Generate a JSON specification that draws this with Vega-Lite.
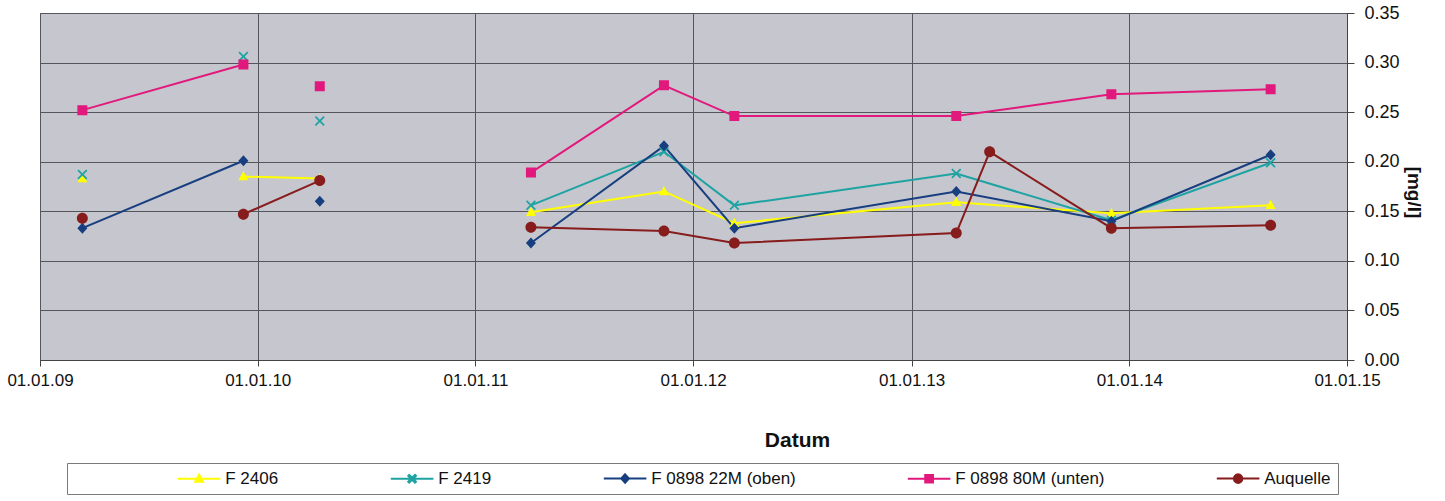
{
  "$schema": "https://vega.github.io/schema/vega-lite/v6.json",
  "width": 1307,
  "height": 347,
  "autosize": {"type": "none"},
  "padding": {"left": 40, "top": 13, "right": 98, "bottom": 141},
  "background": "#ffffff",
  "data": {
    "values": [
      {"Datum": "2009-03-13", "Messstelle": "F 2406", "Wert": 0.183},
      {"Datum": "2009-08-01", "Messstelle": "F 2406", "Wert": null},
      {"Datum": "2009-12-08", "Messstelle": "F 2406", "Wert": 0.185},
      {"Datum": "2010-04-15", "Messstelle": "F 2406", "Wert": 0.183},
      {"Datum": "2010-10-01", "Messstelle": "F 2406", "Wert": null},
      {"Datum": "2011-04-04", "Messstelle": "F 2406", "Wert": 0.149},
      {"Datum": "2011-11-13", "Messstelle": "F 2406", "Wert": 0.170},
      {"Datum": "2012-03-10", "Messstelle": "F 2406", "Wert": 0.138},
      {"Datum": "2013-03-17", "Messstelle": "F 2406", "Wert": 0.159},
      {"Datum": "2013-12-02", "Messstelle": "F 2406", "Wert": 0.148},
      {"Datum": "2014-08-26", "Messstelle": "F 2406", "Wert": 0.156},

      {"Datum": "2009-03-13", "Messstelle": "F 2419", "Wert": 0.187},
      {"Datum": "2009-08-01", "Messstelle": "F 2419", "Wert": null},
      {"Datum": "2009-12-08", "Messstelle": "F 2419", "Wert": 0.306},
      {"Datum": "2010-02-15", "Messstelle": "F 2419", "Wert": null},
      {"Datum": "2010-04-15", "Messstelle": "F 2419", "Wert": 0.241},
      {"Datum": "2010-10-01", "Messstelle": "F 2419", "Wert": null},
      {"Datum": "2011-04-04", "Messstelle": "F 2419", "Wert": 0.156},
      {"Datum": "2011-11-13", "Messstelle": "F 2419", "Wert": 0.210},
      {"Datum": "2012-03-10", "Messstelle": "F 2419", "Wert": 0.156},
      {"Datum": "2013-03-17", "Messstelle": "F 2419", "Wert": 0.188},
      {"Datum": "2013-12-02", "Messstelle": "F 2419", "Wert": 0.141},
      {"Datum": "2014-08-26", "Messstelle": "F 2419", "Wert": 0.199},

      {"Datum": "2009-03-13", "Messstelle": "F 0898 22M (oben)", "Wert": 0.133},
      {"Datum": "2009-12-08", "Messstelle": "F 0898 22M (oben)", "Wert": 0.201},
      {"Datum": "2010-02-15", "Messstelle": "F 0898 22M (oben)", "Wert": null},
      {"Datum": "2010-04-15", "Messstelle": "F 0898 22M (oben)", "Wert": 0.160},
      {"Datum": "2010-10-01", "Messstelle": "F 0898 22M (oben)", "Wert": null},
      {"Datum": "2011-04-04", "Messstelle": "F 0898 22M (oben)", "Wert": 0.118},
      {"Datum": "2011-11-13", "Messstelle": "F 0898 22M (oben)", "Wert": 0.216},
      {"Datum": "2012-03-10", "Messstelle": "F 0898 22M (oben)", "Wert": 0.133},
      {"Datum": "2013-03-17", "Messstelle": "F 0898 22M (oben)", "Wert": 0.170},
      {"Datum": "2013-12-02", "Messstelle": "F 0898 22M (oben)", "Wert": 0.140},
      {"Datum": "2014-08-26", "Messstelle": "F 0898 22M (oben)", "Wert": 0.207},

      {"Datum": "2009-03-13", "Messstelle": "F 0898 80M (unten)", "Wert": 0.252},
      {"Datum": "2009-12-08", "Messstelle": "F 0898 80M (unten)", "Wert": 0.298},
      {"Datum": "2010-02-15", "Messstelle": "F 0898 80M (unten)", "Wert": null},
      {"Datum": "2010-04-15", "Messstelle": "F 0898 80M (unten)", "Wert": 0.276},
      {"Datum": "2010-10-01", "Messstelle": "F 0898 80M (unten)", "Wert": null},
      {"Datum": "2011-04-04", "Messstelle": "F 0898 80M (unten)", "Wert": 0.189},
      {"Datum": "2011-11-13", "Messstelle": "F 0898 80M (unten)", "Wert": 0.277},
      {"Datum": "2012-03-10", "Messstelle": "F 0898 80M (unten)", "Wert": 0.246},
      {"Datum": "2013-03-17", "Messstelle": "F 0898 80M (unten)", "Wert": 0.246},
      {"Datum": "2013-12-02", "Messstelle": "F 0898 80M (unten)", "Wert": 0.268},
      {"Datum": "2014-08-26", "Messstelle": "F 0898 80M (unten)", "Wert": 0.273},

      {"Datum": "2009-03-13", "Messstelle": "Auquelle", "Wert": 0.143},
      {"Datum": "2009-08-01", "Messstelle": "Auquelle", "Wert": null},
      {"Datum": "2009-12-08", "Messstelle": "Auquelle", "Wert": 0.147},
      {"Datum": "2010-04-15", "Messstelle": "Auquelle", "Wert": 0.181},
      {"Datum": "2010-10-01", "Messstelle": "Auquelle", "Wert": null},
      {"Datum": "2011-04-04", "Messstelle": "Auquelle", "Wert": 0.134},
      {"Datum": "2011-11-13", "Messstelle": "Auquelle", "Wert": 0.130},
      {"Datum": "2012-03-10", "Messstelle": "Auquelle", "Wert": 0.118},
      {"Datum": "2013-03-17", "Messstelle": "Auquelle", "Wert": 0.128},
      {"Datum": "2013-05-12", "Messstelle": "Auquelle", "Wert": 0.210},
      {"Datum": "2013-12-02", "Messstelle": "Auquelle", "Wert": 0.133},
      {"Datum": "2014-08-26", "Messstelle": "Auquelle", "Wert": 0.136}
    ]
  },
  "encoding": {
    "x": {
      "field": "Datum",
      "type": "temporal",
      "scale": {
        "type": "utc",
        "domain": [
          {"year": 2009, "month": 1, "date": 1, "utc": true},
          {"year": 2015, "month": 1, "date": 1, "utc": true}
        ]
      },
      "axis": {
        "title": "Datum",
        "format": "%d.%m.%y",
        "values": [
          {"year": 2009, "month": 1, "date": 1, "utc": true},
          {"year": 2010, "month": 1, "date": 1, "utc": true},
          {"year": 2011, "month": 1, "date": 1, "utc": true},
          {"year": 2012, "month": 1, "date": 1, "utc": true},
          {"year": 2013, "month": 1, "date": 1, "utc": true},
          {"year": 2014, "month": 1, "date": 1, "utc": true},
          {"year": 2015, "month": 1, "date": 1, "utc": true}
        ],
        "labelFontSize": 17,
        "labelPadding": 6,
        "labelFlush": false,
        "labelOverlap": false,
        "tickSize": 6,
        "titleFontSize": 21,
        "titleFontWeight": "bold",
        "titleX": 757,
        "titleY": 80,
        "titleAlign": "center",
        "titleBaseline": "middle"
      }
    },
    "y": {
      "field": "Wert",
      "type": "quantitative",
      "scale": {"domain": [0, 0.35], "nice": false, "zero": true},
      "axis": {
        "orient": "right",
        "title": "[mg/l]",
        "values": [0, 0.05, 0.1, 0.15, 0.2, 0.25, 0.3, 0.35],
        "format": ".2f",
        "labelFontSize": 18,
        "labelPadding": 10,
        "labelFlush": false,
        "labelOverlap": false,
        "tickSize": 7,
        "titleFontSize": 19,
        "titleFontWeight": "bold",
        "titleAngle": 90,
        "titleX": 66,
        "titleY": 179,
        "titleAlign": "center",
        "titleBaseline": "middle"
      }
    },
    "color": {
      "field": "Messstelle",
      "type": "nominal",
      "scale": {
        "domain": ["F 2406", "F 2419", "F 0898 22M (oben)", "F 0898 80M (unten)", "Auquelle"],
        "range": ["#ffff00", "#1ea3a3", "#173f80", "#e2197c", "#871c1c"]
      },
      "legend": {
        "orient": "none",
        "legendX": 27,
        "legendY": 450,
        "direction": "horizontal",
        "columns": 5,
        "columnPadding": 107,
        "title": "\u00a0",
        "titleOrient": "left",
        "titlePadding": 99,
        "titleFontSize": 17,
        "padding": 7,
        "strokeColor": "#7a7a7a",
        "fillColor": "#ffffff",
        "labelFontSize": 17,
        "labelColor": "#111111",
        "symbolSize": 60,
        "symbolStrokeWidth": 2,
        "symbolOpacity": 1,
        "symbolOffset": 17.6,
        "labelOffset": 17.6,
        "labelExpr": "datum.label === 'Auquelle' ? datum.label + '\u00a0\u00a0\u00a0\u00a0\u00a0\u00a0\u00a0\u00a0\u00a0\u00a0\u00a0\u00a0\u00a0\u00a0\u00a0\u00a0\u00a0\u00a0\u00a0\u00a0\u00a0\u00a0\u00a0\u00a0\u00a0\u00a0\u00a0\u00a0\u00a0' : datum.label"
      }
    }
  },
  "layer": [
    {
      "mark": {"type": "line", "strokeWidth": 2, "invalid": "break-paths-filter-domains"}
    },
    {
      "mark": {"type": "point", "filled": true, "opacity": 1, "size": 100},
      "encoding": {
        "shape": {
          "field": "Messstelle",
          "type": "nominal",
          "scale": {
            "domain": ["F 2406", "F 2419", "F 0898 22M (oben)", "F 0898 80M (unten)", "Auquelle"],
            "range": [
              "M-5.5,0H5.5M0,-1.1L1,0.75L-1,0.75Z",
              "M-5.5,0H5.5M-1,-0.75L-0.75,-1L0,-0.25L0.75,-1L1,-0.75L0.25,0L1,0.75L0.75,1L0,0.25L-0.75,1L-1,0.75L-0.25,0Z",
              "M-5.5,0H5.5M0,-1.1L1,0L0,1.1L-1,0Z",
              "M-5.5,0H5.5M-1,-1H1V1H-1Z",
              "M-5.5,0H5.5M-1.1,0A1.1,1.1,0,1,0,1.1,0A1.1,1.1,0,1,0,-1.1,0Z"
            ]
          },
          "legend": null
        }
      }
    }
  ],
  "config": {
    "font": "Liberation Sans",
    "view": {"fill": "#c6c6ce", "stroke": "#8a8a8a", "strokeWidth": 1},
    "axis": {
      "grid": true,
      "gridColor": "#55555c",
      "gridWidth": 1,
      "gridOpacity": 1,
      "domainColor": "#444444",
      "domainWidth": 1,
      "tickColor": "#444444",
      "labelColor": "#111111",
      "titleColor": "#111111",
      "labelFont": "Liberation Sans",
      "titleFont": "Liberation Sans"
    }
  }
}
